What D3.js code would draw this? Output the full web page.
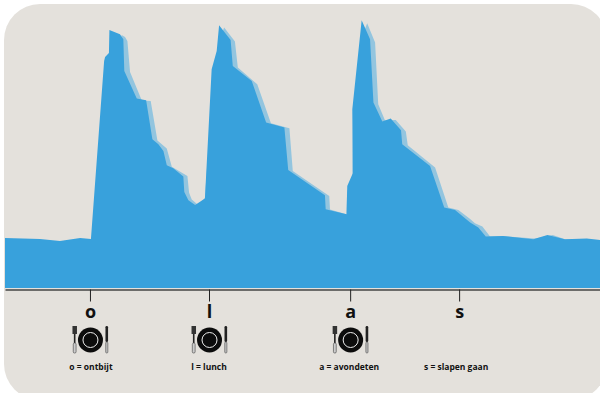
<!DOCTYPE html>
<html>
<head>
<meta charset="utf-8">
<script src="https://d3js.org/d3.v7.min.js"></script>
<style>
  html, body { margin: 0; padding: 0; background: #fff; }
  svg { display: block; }
  text { font-family: "Open Sans", sans-serif; fill: #111; }
</style>
</head>
<body>
<script>
// hours after the start of the curve, level in arbitrary units
var frontHours = [0,1.46,2.29,3.13,3.58,4.13,4.17,4.33,4.35,4.79,4.93,4.97,5.49,5.88,6.14,6.39,6.6,6.74,7.01,7.43,7.47,7.64,7.92,8.33,8.61,8.82,8.92,9.4,9.49,10.28,10.88,11.64,11.8,13.33,13.36,14.23,14.26,14.49,14.47,14.86,15.21,15.35,15.72,16.07,16.5,16.55,17.71,18.3,18.75,19.38,19.72,20.03,20.75,22.01,22.6,23.33,24.24,24.79];
var frontLevel = [25,24.5,23.5,25,24.5,113.5,115.5,117.5,129,126.9,124.4,108.5,94.7,93.9,74.4,71.9,68.5,61.4,59.9,55.7,48,43.9,41.5,44.8,109.4,118.5,131.4,124,111,103.5,82.7,80.2,59,46.4,39.4,36.9,51,57.4,89.4,133.9,124.4,92.7,83.2,84.7,78.9,71.9,61,40.2,39,32.7,30.2,25.8,26,24.4,26.5,24.4,24.7,24];

// the paler curve behind it, starts where the first peak starts
var backHours = [4.35,4.86,5,5.1,5.21,5.7,6.07,6.35,6.74,6.95,7.6,7.67,7.78,8.05,8.33,8.61,8.92,9.04,9.13,9.58,9.7,10.51,11.08,11.85,11.99,13.51,13.54,14.23,14.25,14.48,14.5,14.98,15.09,15.42,15.55,15.83,16.28,16.7,16.78,17.92,18.47,18.89,19.38,19.58,19.89,20.21,20.75,22.08,22.82,23.33,24.79];
var backLevel = [100,126.5,125.5,123.5,108,93.8,93.5,73.8,69.8,60.6,56,47.6,44.3,41.5,45,93.5,113.5,127.5,130.2,123.2,110.2,101.9,82.4,79.9,58.5,46,39.3,36.9,48,56,83,129,132.4,122.7,91.9,83.9,84,78.2,71.4,60.2,40.2,39,34.5,32.4,30.7,25.8,26,24.7,26.5,24.4,24];

var tickHours = [3.54,8.5,14.38,18.92];
var tickLabels = ["o","l","a","s"];
var captions = ["o = ontbijt","l = lunch","a = avondeten","s = slapen gaan"];
var captionShift = [1,0,-1,-3];
var plateHours = [3.54,8.5,14.38];

var width = 600, height = 393;

var svg = d3.select("body").append("svg")
    .attr("width", width)
    .attr("height", height);

// rounded panel, runs off the right and bottom of the picture
svg.append("rect")
    .attr("x", 4).attr("y", 4)
    .attr("width", 603).attr("height", 396)
    .attr("rx", 36).attr("ry", 36)
    .attr("fill", "#e4e1dc");

var x = d3.scaleLinear().domain([0, 24.79]).range([5, 600]);
var y = d3.scaleLinear().domain([0, 140]).range([288, 8]);

var area = d3.area()
    .x(function(d) { return x(d[0]); })
    .y0(y(0))
    .y1(function(d) { return y(d[1]); });

svg.append("path")
    .datum(d3.zip(backHours, backLevel))
    .attr("fill", "#93c5df")
    .attr("d", area);

svg.append("path")
    .datum(d3.zip(frontHours, frontLevel))
    .attr("fill", "#38a1dc")
    .attr("d", area);

// axis with the letters for the meals
var axis = svg.append("g")
    .attr("transform", "translate(0,289.5)")
    .call(d3.axisBottom(x)
      .tickValues(tickHours)
      .tickFormat(function(d, i) { return tickLabels[i]; })
      .tickSize(12)
      .tickSizeOuter(0)
      .tickPadding(4));

axis.select(".domain").attr("stroke", "#444").attr("stroke-width", 1.5);
axis.selectAll(".tick line").attr("stroke", "#222").attr("stroke-width", 1);
axis.selectAll(".tick text")
    .style("font-family", "'Open Sans', sans-serif")
    .style("font-size", "18px")
    .style("font-weight", "700")
    .attr("fill", "#111");

// plate, fork and knife
var plates = svg.selectAll(".plate")
    .data(plateHours)
  .enter().append("g")
    .attr("class", "plate")
    .attr("transform", function(d) { return "translate(" + (x(d) + 0.5) + ",340)"; });

plates.append("circle").attr("r", 12.5).attr("fill", "#0c0c0c");
plates.append("circle").attr("r", 7.5).attr("fill", "none").attr("stroke", "#eee").attr("stroke-width", 1);
plates.append("rect").attr("x", -18).attr("y", -14).attr("width", 4.5).attr("height", 8).attr("fill", "#333");
plates.append("rect").attr("x", -16.6).attr("y", -6).attr("width", 1.6).attr("height", 9).attr("fill", "#222");
plates.append("rect").attr("x", -17.2).attr("y", 3).attr("width", 2.8).attr("height", 10).attr("rx", 1.2)
    .attr("fill", "#ccc").attr("stroke", "#555").attr("stroke-width", 0.7);
plates.append("rect").attr("x", 15).attr("y", -14).attr("width", 2.6).attr("height", 16).attr("rx", 1.2).attr("fill", "#222");
plates.append("rect").attr("x", 15.2).attr("y", 2).attr("width", 2.2).attr("height", 11).attr("rx", 1)
    .attr("fill", "#bbb").attr("stroke", "#555").attr("stroke-width", 0.6);

// captions under the plates
svg.selectAll(".caption")
    .data(captions)
  .enter().append("text")
    .attr("class", "caption")
    .attr("x", function(d, i) { return x(tickHours[i]) + captionShift[i]; })
    .attr("y", 370)
    .attr("text-anchor", "middle")
    .style("font-size", "8.5px")
    .style("font-weight", "700")
    .text(function(d) { return d; });
</script>
</body>
</html>
